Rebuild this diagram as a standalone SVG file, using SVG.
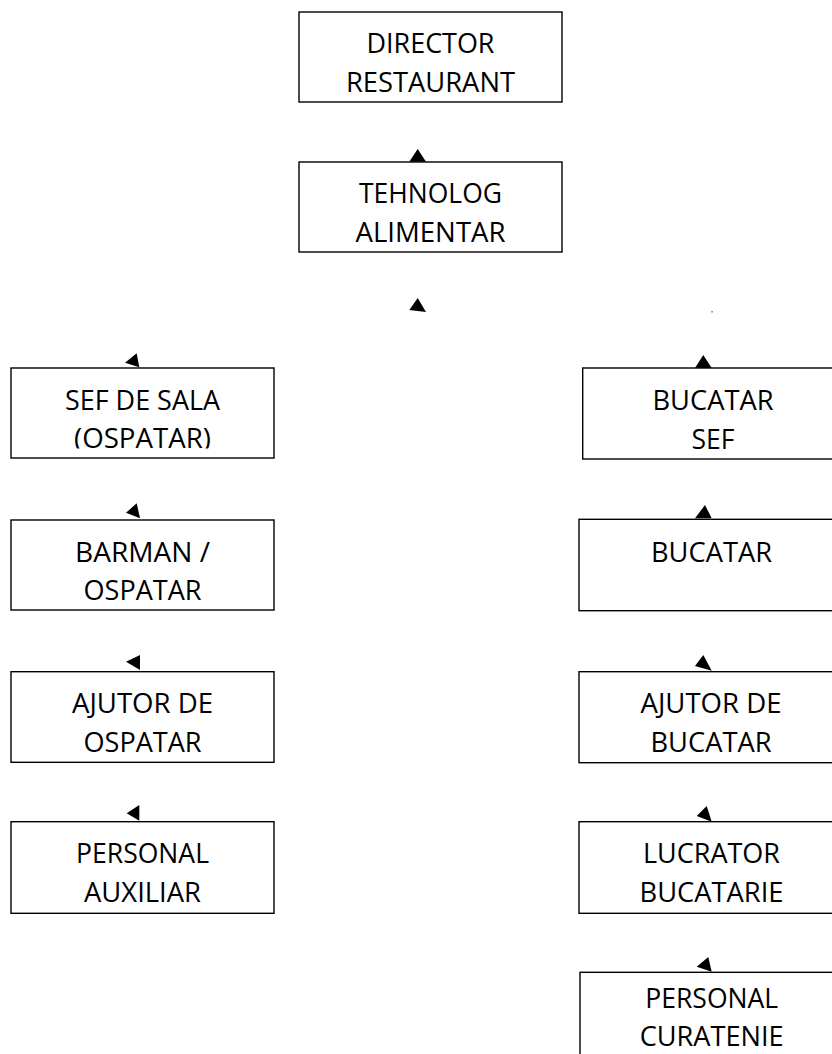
<svg xmlns="http://www.w3.org/2000/svg" width="832" height="1054" viewBox="0 0 832 1054">
<style>
.box{fill:#fff;stroke:#000;stroke-width:1.4}
.t{font-family:"Open Sans","Liberation Sans",Arial,sans-serif;font-size:28px;fill:#000;text-anchor:middle}
.ah{fill:#000;stroke:none}
</style>
<defs>
<clipPath id="clipSef"><rect x="11" y="368" width="263" height="80.5"/></clipPath>
</defs>
<rect width="832" height="1054" fill="#fff"/>
<g id="connectors">
<polygon class="ah" points="417.7,149 409.3,161.7 426,161.7"/>
<polygon class="ah" points="417.7,298 409.3,310 426,312"/>
<polygon class="ah" points="136.7,353.3 125,362.7 139.3,367.3"/>
<polygon class="ah" points="136.7,503.3 126,512.7 140,518.3"/>
<polygon class="ah" points="140,655 126,661.7 140,670"/>
<polygon class="ah" points="139.3,805 126.7,813.3 139.3,820.7"/>
<polygon class="ah" points="703.3,355 695,368 711.7,368"/>
<polygon class="ah" points="705,505 695,518.3 711.7,518.3"/>
<polygon class="ah" points="703.3,655 695,666 711.7,670.7"/>
<polygon class="ah" points="706.7,806 696.7,816 711.7,821.7"/>
<polygon class="ah" points="708.3,957 696.7,966.7 711.7,971.7"/>
<rect x="711.3" y="311" width="1.5" height="1.5" fill="#777"/>
</g>
<g id="director">
<rect class="box" x="299" y="12" width="263" height="90"/>
<text class="t" x="430.5" y="53.3" textLength="128" lengthAdjust="spacingAndGlyphs">DIRECTOR</text>
<text class="t" x="430.5" y="91.7" textLength="169" lengthAdjust="spacingAndGlyphs">RESTAURANT</text>
</g>
<g id="tehnolog">
<rect class="box" x="299" y="162" width="263" height="90"/>
<text class="t" x="430.5" y="203.3" textLength="143" lengthAdjust="spacingAndGlyphs">TEHNOLOG</text>
<text class="t" x="430.5" y="241.7" textLength="150" lengthAdjust="spacingAndGlyphs">ALIMENTAR</text>
</g>
<g id="sef-de-sala">
<rect class="box" x="11" y="368" width="263" height="90"/>
<text class="t" x="142.5" y="410" textLength="155" lengthAdjust="spacingAndGlyphs">SEF DE SALA</text>
<text class="t" x="142.5" y="448.3" textLength="137" lengthAdjust="spacingAndGlyphs" clip-path="url(#clipSef)">(OSPATAR)</text>
</g>
<g id="barman">
<rect class="box" x="11" y="520" width="263" height="90"/>
<text class="t" x="142.5" y="561.7" textLength="135" lengthAdjust="spacingAndGlyphs">BARMAN /</text>
<text class="t" x="142.5" y="600" textLength="118" lengthAdjust="spacingAndGlyphs">OSPATAR</text>
</g>
<g id="ajutor-ospatar">
<rect class="box" x="11" y="671.7" width="263" height="90.6"/>
<text class="t" x="142.5" y="713.3" textLength="141" lengthAdjust="spacingAndGlyphs">AJUTOR DE</text>
<text class="t" x="142.5" y="751.7" textLength="118" lengthAdjust="spacingAndGlyphs">OSPATAR</text>
</g>
<g id="personal-auxiliar">
<rect class="box" x="11" y="821.7" width="263" height="91.6"/>
<text class="t" x="142.5" y="863.3" textLength="133" lengthAdjust="spacingAndGlyphs">PERSONAL</text>
<text class="t" x="142.5" y="901.7" textLength="117" lengthAdjust="spacingAndGlyphs">AUXILIAR</text>
</g>
<g id="bucatar-sef">
<rect class="box" x="582.7" y="368" width="262" height="91"/>
<text class="t" x="713" y="409.7" textLength="121" lengthAdjust="spacingAndGlyphs">BUCATAR</text>
<text class="t" x="713" y="449.3" textLength="43" lengthAdjust="spacingAndGlyphs">SEF</text>
</g>
<g id="bucatar">
<rect class="box" x="579" y="519.3" width="266" height="91.4"/>
<text class="t" x="711.5" y="561.7" textLength="121" lengthAdjust="spacingAndGlyphs">BUCATAR</text>
</g>
<g id="ajutor-bucatar">
<rect class="box" x="579" y="671.7" width="266" height="91"/>
<text class="t" x="711" y="713.3" textLength="141" lengthAdjust="spacingAndGlyphs">AJUTOR DE</text>
<text class="t" x="711" y="751.7" textLength="121" lengthAdjust="spacingAndGlyphs">BUCATAR</text>
</g>
<g id="lucrator-bucatarie">
<rect class="box" x="579" y="821.7" width="266" height="91.6"/>
<text class="t" x="711.5" y="863.3" textLength="137" lengthAdjust="spacingAndGlyphs">LUCRATOR</text>
<text class="t" x="711.5" y="901.7" textLength="144" lengthAdjust="spacingAndGlyphs">BUCATARIE</text>
</g>
<g id="personal-curatenie">
<rect class="box" x="580" y="972.3" width="266" height="100"/>
<text class="t" x="711.7" y="1007.5" textLength="133" lengthAdjust="spacingAndGlyphs">PERSONAL</text>
<text class="t" x="711.7" y="1045.7" textLength="144" lengthAdjust="spacingAndGlyphs">CURATENIE</text>
</g>
</svg>
